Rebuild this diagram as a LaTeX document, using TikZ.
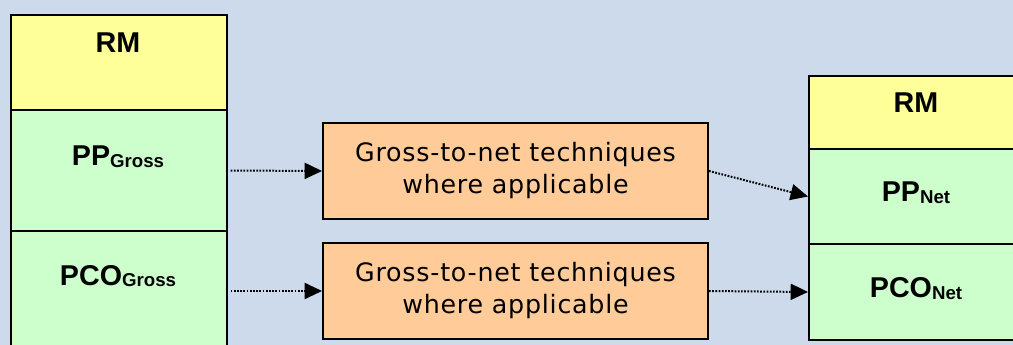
\documentclass[tikz,border=0pt]{standalone}
\usepackage{fontspec}
\setmainfont{Liberation Sans}
\newfontfamily\boxfont[LetterSpace=3]{DejaVu Sans}
\usetikzlibrary{arrows.meta}
\definecolor{bgblue}{RGB}{204,218,236}
\definecolor{rmyellow}{RGB}{255,255,153}
\definecolor{pgreen}{RGB}{204,255,204}
\definecolor{gnorange}{RGB}{255,204,153}
\newcommand{\lbl}[2]{\bfseries\fontsize{21.5}{25}\selectfont #1\raisebox{-1.5pt}{\fontsize{14}{14}\selectfont #2}}
\begin{document}
\begin{tikzpicture}[x=0.75pt,y=-0.75pt,
  cell/.style={draw=black, line width=1.5pt, minimum width=162pt, anchor=north west, inner sep=0pt},
  gnbox/.style={draw=black, line width=1.5pt, fill=gnorange, minimum width=288.75pt, minimum height=72pt,
    anchor=north west, inner sep=0pt, align=center, font=\boxfont\fontsize{19}{24}\selectfont},
  lab/.style={anchor=base, inner sep=0pt},
  conn/.style={line width=1.5pt, dash pattern=on 1.3pt off 1.1pt, -{Triangle[length=13pt,width=12pt]}}]
\useasboundingbox (0,0) rectangle (1013,345);
\clip (0,0) rectangle (1013,345);
\fill[bgblue] (0,0) rectangle (1013,345);

% gross columns on the left
\node[cell, fill=rmyellow, minimum height=71.25pt] (lrm) at (10,14) {};
\node[cell, fill=pgreen, minimum height=90.75pt] (lpp) at (10,109) {};
\node[cell, fill=pgreen, minimum height=90pt] (lpco) at (10,230) {};
\node[lab] (lrmt) at (118,53) {\lbl{RM}{}};
\node[lab] (lppt) at (118,166) {\lbl{PP}{Gross}};
\node[lab] (lpcot) at (118,285) {\lbl{PCO}{Gross}};

% gross-to-net steps
\node[gnbox] (g1) at (322,122) {Gross-to-net techniques\\where applicable};
\node[gnbox] (g2) at (322,242) {Gross-to-net techniques\\where applicable};

% net columns on the right
\node[cell, fill=rmyellow, minimum height=54.75pt] (rrm) at (808,75) {};
\node[cell, fill=pgreen, minimum height=71.25pt] (rpp) at (808,148) {};
\node[cell, fill=pgreen, minimum height=72pt] (rpco) at (808,243) {};
\node[lab] (rrmt) at (916,113) {\lbl{RM}{}};
\node[lab] (rppt) at (916,202) {\lbl{PP}{Net}};
\node[lab] (rpcot) at (916,297) {\lbl{PCO}{Net}};

% connectors
\draw[conn, shorten <=2pt] (lpp.east) -- (g1.west);
\draw[conn, shorten <=2pt] (lpco.east) -- (g2.west);
\draw[conn] (g1.east) -- (rpp.west);
\draw[conn] (g2.east) -- (rpco.west);
\end{tikzpicture}
\end{document}
